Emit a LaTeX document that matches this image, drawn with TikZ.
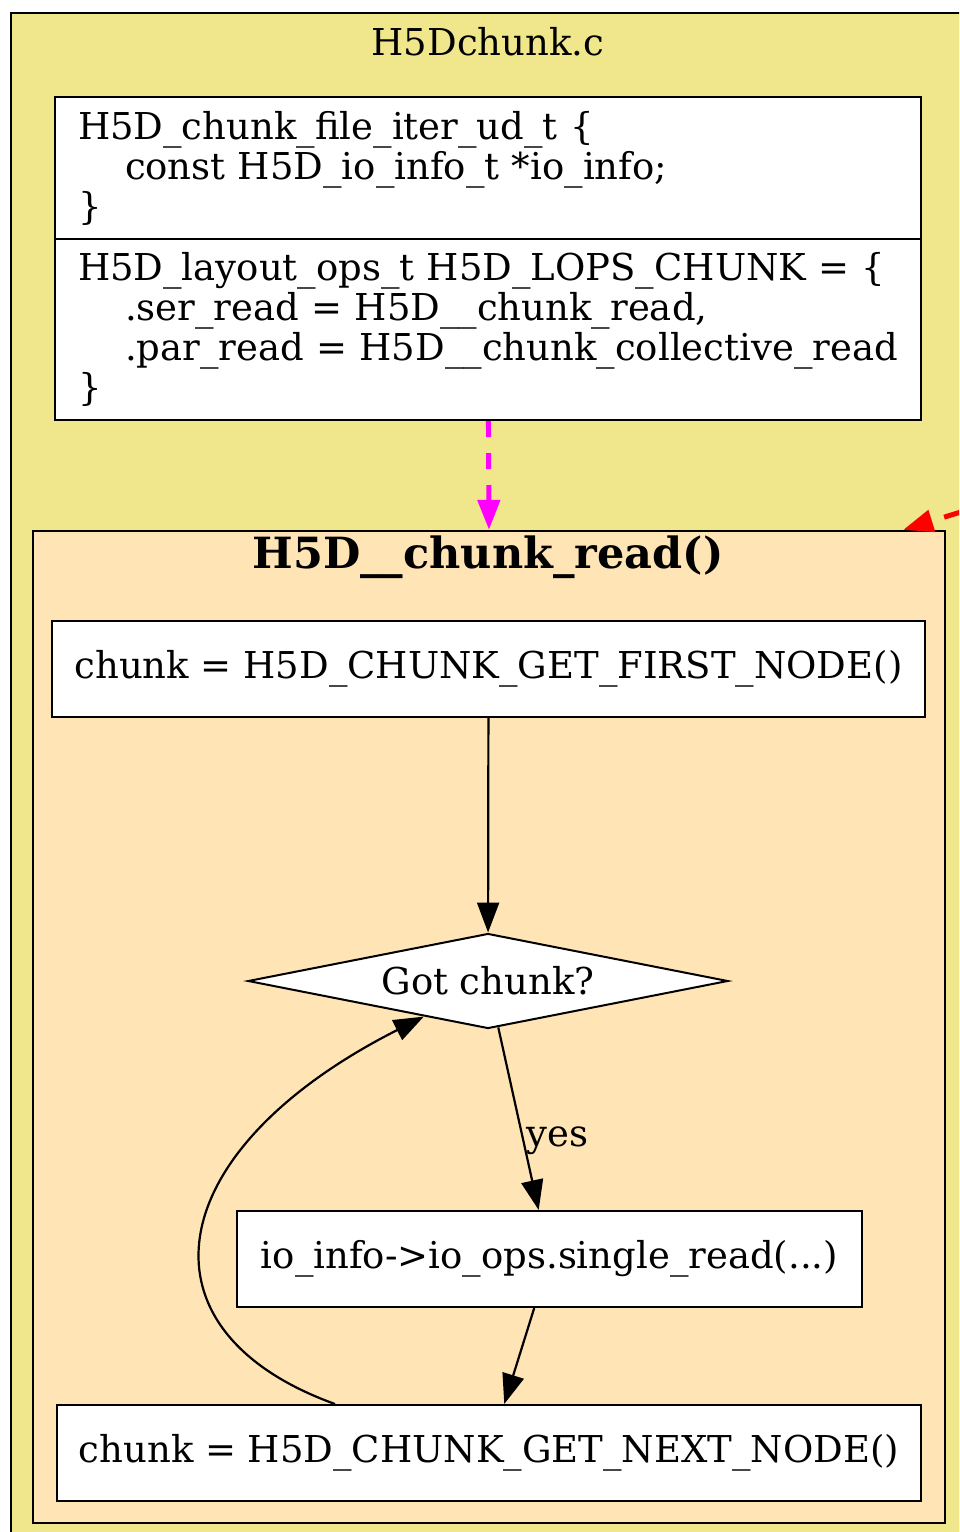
\documentclass[tikz,border=0pt]{standalone}
\usepackage{fontspec}
\setmainfont{DejaVu Serif}
\usepackage{tikz}
\usetikzlibrary{shapes.geometric, arrows.meta, positioning}
\tikzset{>={Triangle[length=15pt,width=11pt]}}
\usepackage{xcolor}
\definecolor{clkhaki}{HTML}{F0E68C}
\definecolor{clmoccasin}{HTML}{FFE4B5}
\definecolor{clmagenta}{HTML}{FF00FF}
\definecolor{clred}{HTML}{FF0000}
\tikzset{
  stepbox/.style={draw, line width=1pt, fill=white, minimum height=48pt, inner sep=0pt},
  recbox/.style={draw, line width=1pt, fill=white, text width=410pt, inner xsep=11.5pt, inner ysep=0pt, align=left},
  flow/.style={->, line width=1.1pt},
  longdash/.style={->, line width=2.5pt, dash pattern=on 8pt off 8pt},
}

\begin{document}
\begin{tikzpicture}[x=0.5pt, y=-0.5pt, font=\fontsize{18.5}{20}\selectfont]
			\useasboundingbox (0,0) rectangle (959,1532);
			\clip (0,0) rectangle (959,1532);
			\draw [line width=1.2pt, fill=clkhaki] (11,13) rectangle (1000,1570);
			\node (filename) at (488,42) {H5Dchunk.c};
			\node [recbox, minimum height=71pt] (iterud) at (488,168) {H5D\_chunk\_file\_iter\_ud\_t \{\\ \hspace*{23.5pt}const H5D\_io\_info\_t *io\_info;\\ \}};
			\node [recbox, minimum height=90.5pt] (lops) at (488,329.5) {H5D\_layout\_ops\_t H5D\_LOPS\_CHUNK = \{\\ \hspace*{23.5pt}.ser\_read = H5D\_\_chunk\_read,\\ \hspace*{23.5pt}.par\_read = H5D\_\_chunk\_collective\_read\\ \}};
			\node [draw, line width=1.2pt, fill=clmoccasin, minimum width=456pt, minimum height=496pt] (chunkread) at (489,1027) {};
			\node [font=\fontsize{21.5}{24}\selectfont\bfseries] (readtitle) at (488,557) {H5D\_\_chunk\_read()};
			\node [stepbox, minimum width=436.5pt] (firstnode) at (488.5,669) {chunk = H5D\_CHUNK\_GET\_FIRST\_NODE()};
			\node [diamond, draw, line width=1pt, fill=white, aspect=5, minimum width=240pt, minimum height=47.5pt, inner sep=0pt] (gotchunk) at (488,981) {Got chunk?};
			\node [stepbox, minimum width=312.5pt] (singleread) at (549.5,1259) {io\_info->io\_ops.single\_read(...)};
			\node [stepbox, minimum width=432pt] (nextnode) at (489,1453) {chunk = H5D\_CHUNK\_GET\_NEXT\_NODE()};
			\coordinate (redsrc) at (990,503);
			\draw [longdash, clmagenta] (lops) -- (chunkread.north);
			\draw [longdash, clred] (redsrc) -- ([xshift=-21.5pt]chunkread.north east);
			\draw [flow] (firstnode) -- (gotchunk);
			\draw [flow] (gotchunk) -- node[right, pos=0.62, inner sep=1pt]{yes} (singleread);
			\draw [flow] (singleread) -- (nextnode);
			\draw [flow] ([xshift=-77pt]nextnode.north) .. controls (130,1330) and (160,1150) .. (gotchunk.209);
		\end{tikzpicture}
\end{document}
